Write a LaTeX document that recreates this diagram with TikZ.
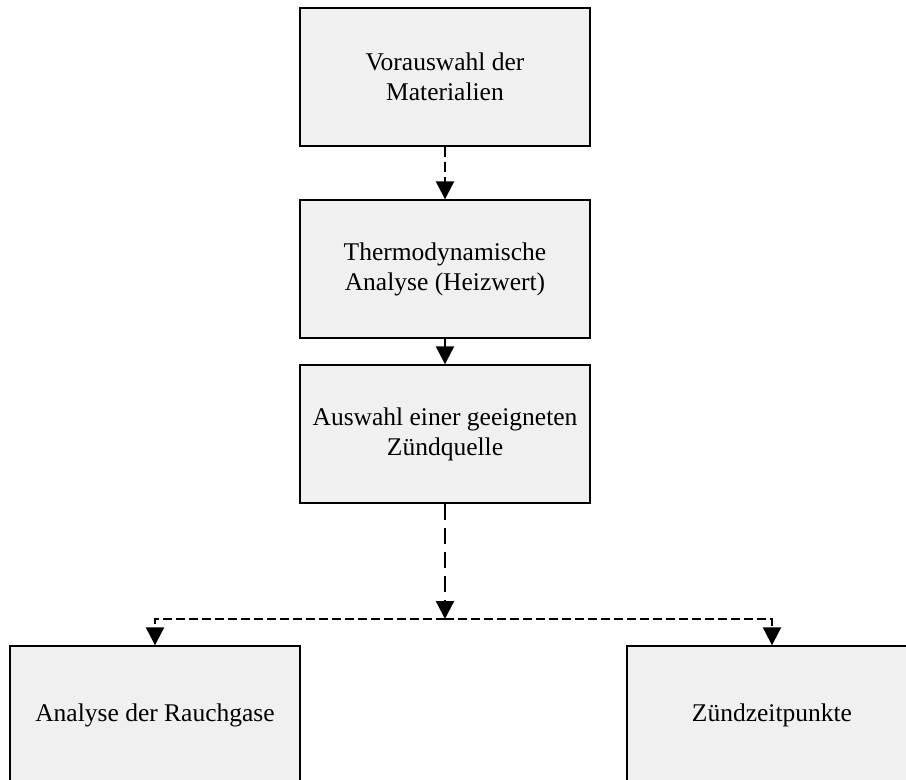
\documentclass[tikz,border=0pt]{standalone}
\usepackage{fontspec}
\setmainfont{Liberation Serif}
\usetikzlibrary{arrows.meta}
\definecolor{boxfill}{HTML}{F0F0F0}
\tikzset{
  x=1pt, y=-1pt,
  procbox/.style={draw=black, line width=1.4pt, fill=boxfill, minimum width=290pt, minimum height=138pt,
    inner sep=0pt, align=center, font=\fontsize{25.5pt}{30pt}\selectfont},
  conn/.style={line width=2.2pt, -{Triangle[length=18pt,width=18pt]}},
  dashA/.style={dash pattern=on 10pt off 5pt},
  dashB/.style={dash pattern=on 16pt off 8pt},
  dashC/.style={dash pattern=on 9pt off 4pt},
}
\begin{document}
\begin{tikzpicture}
\useasboundingbox (0,0) rectangle (906,780);
\clip (0,0) rectangle (906,780);
\node[procbox] (b1) at (445,77) {Vorauswahl der\\Materialien};
\node[procbox] (b2) at (445,269) {Thermodynamische\\Analyse (Heizwert)};
\node[procbox] (b3) at (445,434) {Auswahl einer geeigneten\\Zündquelle};
\node[procbox] (b4) at (155,715) {Analyse der Rauchgase};
\node[procbox] (b5) at (772,715) {Zündzeitpunkte};
\coordinate (j) at (445,619);
\draw[conn,dashA] (b1.south) -- (b2.north);
\draw[conn] (b2.south) -- (b3.north);
\draw[conn,dashB] (b3.south) -- (j);
\draw[conn,dashC] (j) -| (b4.north);
\draw[conn,dashC] (j) -| (b5.north);
\end{tikzpicture}
\end{document}
